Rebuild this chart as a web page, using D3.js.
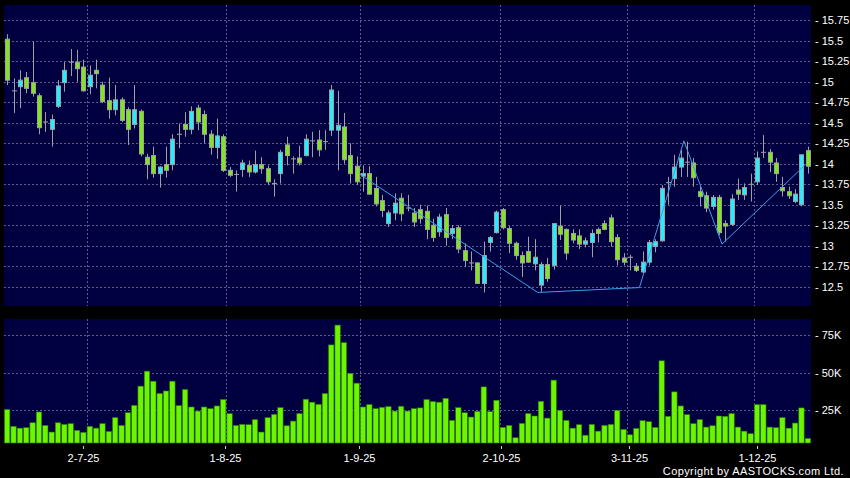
<!DOCTYPE html>
<meta charset="utf-8">
<title>Candlestick + Volume</title>
<style>
  body { margin: 0; background: #000; }
  svg { display: block; }
  text { font-family: "Liberation Sans", Arial, sans-serif; fill: #fff; }
</style>
<body>
<svg id="chart" width="850" height="478"></svg>
<script src="https://cdn.jsdelivr.net/npm/d3@7"></script>
<script>

// daily bars (index 0 .. 126)
var opens = [15.52,14.89,14.94,15.05,14.99,14.83,14.51,14.42,14.70,14.99,15.24,15.24,15.18,14.94,15.14,14.96,14.77,14.66,14.78,14.66,
  14.48,14.64,14.08,14.10,13.88,13.99,13.99,14.36,14.48,14.42,14.68,14.60,14.36,14.20,14.33,13.92,13.87,13.93,13.98,13.90,
  13.99,13.94,13.76,13.88,14.23,14.06,14.07,14.10,14.28,14.29,14.27,14.41,14.41,14.45,14.10,13.97,13.85,13.88,13.70,13.55,
  13.27,13.40,13.58,13.46,13.40,13.44,13.42,13.25,13.17,13.38,13.15,13.22,12.94,12.79,12.79,12.54,13.04,13.16,13.44,13.21,
  13.03,12.88,12.93,12.78,12.52,12.77,12.76,13.24,13.20,13.15,13.12,13.02,13.04,13.20,13.27,13.34,13.10,12.85,12.86,12.75,
  12.68,12.80,12.99,13.06,13.77,13.82,13.96,14.02,14.01,13.66,13.61,13.48,13.59,13.27,13.26,13.68,13.62,13.75,13.78,14.14,
  14.14,14.01,13.71,13.66,13.54,13.50,14.16];
var highs = [15.58,15.04,15.14,15.12,15.49,14.86,14.63,14.60,15.02,15.24,15.40,15.39,15.27,15.20,15.27,15.00,15.05,14.96,14.81,14.69,
  14.96,14.66,14.12,14.21,13.97,14.21,14.36,14.49,14.63,14.70,14.72,14.65,14.41,14.55,14.36,13.96,13.92,14.05,14.04,14.16,
  14.08,13.98,13.81,14.17,14.33,14.09,14.22,14.36,14.39,14.41,14.41,14.96,14.89,14.62,14.25,14.09,13.98,13.97,13.84,13.62,
  13.43,13.64,13.64,13.62,13.46,13.50,13.49,13.33,13.39,13.46,13.25,13.25,13.03,12.93,12.80,13.05,13.12,13.43,13.46,13.24,
  13.05,12.93,13.11,13.08,12.80,12.85,13.27,13.49,13.21,13.20,13.20,13.10,13.20,13.22,13.31,13.38,13.14,12.91,12.89,12.79,
  12.93,13.07,13.08,13.74,13.84,14.11,14.17,14.27,14.07,13.72,13.66,13.62,13.62,13.31,13.63,13.82,13.76,13.88,14.15,14.35,
  14.18,14.07,13.84,13.72,13.69,14.11,14.21];
var lows = [14.96,14.62,14.68,14.86,14.82,14.36,14.39,14.21,14.68,14.88,15.07,15.00,14.88,14.85,14.92,14.74,14.55,14.59,14.51,14.23,
  14.43,14.09,13.81,13.83,13.71,13.83,13.92,14.19,14.33,14.36,14.41,14.25,14.11,14.06,13.90,13.84,13.66,13.84,13.84,13.88,
  13.88,13.74,13.60,13.76,13.98,13.88,13.98,14.09,14.08,14.09,14.17,14.34,13.92,14.00,13.76,13.74,13.66,13.62,13.48,13.35,
  13.23,13.31,13.30,13.42,13.23,13.27,13.08,13.05,13.11,13.00,13.08,12.91,12.74,12.70,12.54,12.43,12.93,13.15,13.20,12.91,
  12.83,12.62,12.79,12.70,12.44,12.56,12.71,13.07,12.83,13.03,12.96,12.98,12.86,13.04,13.19,12.99,12.76,12.76,12.70,12.68,
  12.66,12.76,12.92,13.05,13.50,13.72,13.84,13.84,13.72,13.48,13.41,13.44,13.13,13.05,13.24,13.56,13.56,13.54,13.74,14.07,
  13.90,13.78,13.60,13.57,13.52,13.48,13.88];
var closes = [15.02,14.89,15.02,14.92,14.86,14.44,14.51,14.54,14.95,15.14,15.24,15.16,14.89,15.08,15.10,14.76,14.66,14.78,14.53,14.42,
  14.66,14.12,13.99,13.88,13.96,13.92,14.30,14.36,14.42,14.64,14.51,14.36,14.20,14.34,13.92,13.86,13.87,14.01,13.90,13.99,
  13.94,13.78,13.76,14.14,14.10,14.06,14.01,14.30,14.28,14.17,14.27,14.90,14.47,14.05,13.88,13.78,13.88,13.63,13.51,13.43,
  13.40,13.52,13.39,13.46,13.29,13.33,13.20,13.10,13.35,13.10,13.21,12.96,12.82,12.79,12.54,12.88,13.10,13.41,13.22,13.03,
  12.88,12.79,12.80,12.86,12.77,12.60,13.27,13.14,12.91,13.07,13.02,13.06,13.15,13.15,13.20,13.05,12.83,12.80,12.86,12.70,
  12.80,13.04,13.05,13.70,13.77,13.96,14.07,14.02,13.83,13.60,13.46,13.59,13.16,13.24,13.57,13.63,13.71,13.75,14.07,14.14,
  14.02,13.88,13.67,13.61,13.63,14.11,13.97];
var volumes = [25.3,14.1,12.9,13.2,16.5,23.7,14.7,10.3,16.5,15.4,15.9,11.4,10.1,14.1,12.9,15.9,10.7,19.9,14.7,23.2,
  28.1,40.9,50.9,44.2,36.0,37.7,44.2,27.9,38.7,27.0,24.3,27.0,25.9,27.7,32.0,22.6,14.7,15.4,15.2,18.6,
  10.3,19.9,22.1,26.6,14.5,17.6,22.6,32.2,30.2,28.8,36.0,68.4,81.6,69.9,49.4,42.9,27.0,28.6,25.9,26.8,
  27.3,24.3,27.5,24.3,25.9,26.4,32.0,30.6,30.2,32.8,18.1,26.6,23.2,20.3,24.1,40.4,23.9,31.5,13.4,14.7,
  6.5,16.1,22.6,21.0,30.8,19.6,44.9,24.8,18.1,12.9,15.2,8.2,15.4,10.9,14.7,15.4,24.8,12.1,8.5,12.7,
  17.9,17.2,13.4,57.8,20.8,37.1,27.7,21.9,15.9,18.6,13.6,14.5,21.0,20.8,22.6,13.6,10.9,9.2,28.6,28.6,
  13.6,13.2,19.9,12.9,16.3,26.4,6.0].map(function (v) { return v * 1000; });

// overlay trend line (bar index, price)
var lineIdx = [56, 84, 100, 107, 113, 126];
var linePrice = [13.87, 12.43, 12.49, 14.28, 13.02, 13.98];

// axes
var priceTicks = [12.5,12.75,13,13.25,13.5,13.75,14,14.25,14.5,14.75,15,15.25,15.5,15.75];
var volTicks = [25000, 50000, 75000];
var dateIdx = [12, 34, 55, 77, 97, 117];
var dateLabels = ["2-7-25", "1-8-25", "1-9-25", "2-10-25", "3-11-25", "1-12-25"];

var W = 850, H = 478,
    left = 4, right = 811,
    pTop = 5, pBot = 306,
    vTop = 319, vBot = 443;

var svg = d3.select("#chart");

var x = d3.scaleBand().domain(d3.range(opens.length)).range([left, right]);
var step = x.step();
// the date labels sit on a slightly wider spacing than the bars
var xLab = d3.scaleLinear().domain([0, 126]).range([6.3, 815.1]);

var y = d3.scaleLinear().domain([12.265, 15.937]).range([pBot, pTop]);
var yv = d3.scaleLinear().domain([0, 85670]).range([447.5, vTop]);

// panels
svg.append("rect").attr("x", left).attr("y", pTop).attr("width", right - left).attr("height", pBot - pTop).attr("fill", "#000040");
svg.append("rect").attr("x", left).attr("y", vTop).attr("width", right - left).attr("height", vBot - vTop).attr("fill", "#000040");

var grid = svg.append("g").attr("stroke", "#5c5c8e").attr("stroke-width", 1).attr("stroke-dasharray", "2,2");
grid.selectAll(".hp").data(priceTicks).enter().append("line")
    .attr("x1", left).attr("x2", right)
    .attr("y1", function (d) { return Math.round(y(d)) + 0.5; })
    .attr("y2", function (d) { return Math.round(y(d)) + 0.5; });
grid.selectAll(".hv").data(volTicks).enter().append("line")
    .attr("x1", left).attr("x2", right)
    .attr("y1", function (d) { return Math.round(yv(d)) + 0.5; })
    .attr("y2", function (d) { return Math.round(yv(d)) + 0.5; });
dateIdx.forEach(function (i) {
  var gx = Math.round(x(i) + step) + 0.5;
  grid.append("line").attr("x1", gx).attr("x2", gx).attr("y1", pTop).attr("y2", pBot);
  grid.append("line").attr("x1", gx).attr("x2", gx).attr("y1", vTop).attr("y2", vBot);
});

// candles
var bars = d3.range(opens.length);
var cw = 5;
var candles = svg.append("g");
candles.selectAll(".wick").data(bars).enter().append("line")
    .attr("x1", function (i) { return Math.round(x(i) + step / 2) + 0.5; })
    .attr("x2", function (i) { return Math.round(x(i) + step / 2) + 0.5; })
    .attr("y1", function (i) { return y(highs[i]); })
    .attr("y2", function (i) { return y(lows[i]); })
    .attr("stroke", "#a0a0a0");
candles.selectAll(".body").data(bars).enter().append("rect")
    .attr("x", function (i) { return Math.round(x(i) + step / 2) - 2 + 0.5; })
    .attr("y", function (i) { return y(Math.max(opens[i], closes[i])); })
    .attr("width", cw - 1)
    .attr("height", function (i) { return Math.max(0.01, Math.abs(y(opens[i]) - y(closes[i]))); })
    .attr("fill", function (i) { return closes[i] > opens[i] ? "#22eeff" : closes[i] < opens[i] ? "#7ee81a" : "#a0a0a0"; })
    .attr("stroke", "#a0a0a0");

// trend line
svg.append("path")
    .datum(lineIdx.map(function (d, k) { return [x(d), y(linePrice[k])]; }))
    .attr("d", d3.line())
    .attr("fill", "none")
    .attr("stroke", "#3aa0e8")
    .attr("stroke-width", 1);

// volume bars
svg.append("g").selectAll("rect").data(bars).enter().append("rect")
    .attr("x", function (i) { return x(i) + 0.5; })
    .attr("y", function (i) { return yv(volumes[i]); })
    .attr("width", step - 1)
    .attr("height", function (i) { return vBot - yv(volumes[i]); })
    .attr("fill", "#6cf500")
    .attr("stroke", "#2f7a00")
    .attr("stroke-width", 0.6);

// right axis labels
var ax = svg.append("g").attr("font-size", 11);
ax.selectAll(".pt").data(priceTicks).enter().append("text")
    .attr("x", 815).attr("y", function (d) { return y(d) + 4; })
    .text(function (d) { return "- " + d; });
ax.selectAll(".vt").data(volTicks).enter().append("text")
    .attr("x", 815).attr("y", function (d) { return yv(d) + 4; })
    .text(function (d) { return "- " + (d / 1000) + "K"; });

// date axis
dateIdx.forEach(function (i, k) {
  var tx = Math.round(xLab(i)) + 0.5;
  svg.append("line").attr("x1", tx).attr("x2", tx).attr("y1", 446).attr("y2", 449).attr("stroke", "#ccc");
  ax.append("text").attr("x", tx).attr("y", 462).attr("text-anchor", "middle").text(dateLabels[k]);
});

svg.append("text").attr("x", 844).attr("y", 475).attr("text-anchor", "end")
    .attr("font-size", 11).attr("letter-spacing", 0.4)
    .text("Copyright by AASTOCKS.com Ltd.");

</script>
</body>
